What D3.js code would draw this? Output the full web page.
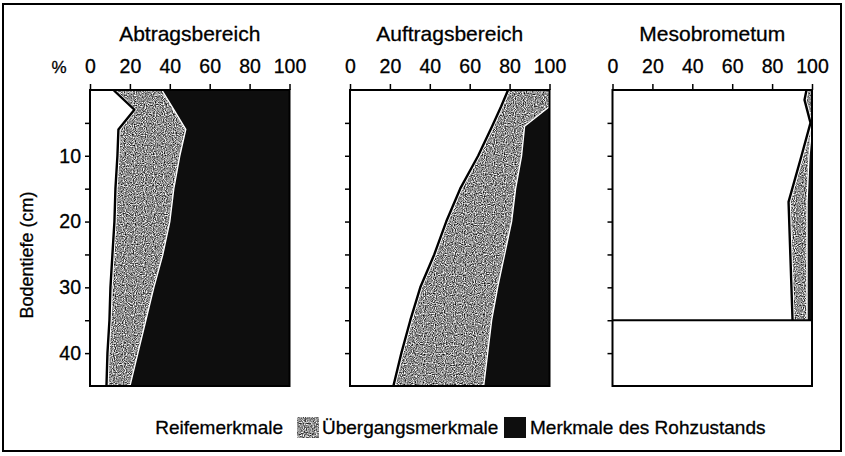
<!DOCTYPE html>
<html lang="de">
<head>
<meta charset="utf-8">
<script src="https://cdn.jsdelivr.net/npm/d3@7"></script>
<style>
    body { margin: 0; background: #fff; }
    text { font-family: "Liberation Sans", Arial, Helvetica, sans-serif; fill: #000; stroke: #000; stroke-width: 0.3px; }
</style>
</head>
<body>
<script type="text/javascript">

    var svgWidth = 845;
    var svgHeight = 456;

    /* Daten */
    var keys = ["Reifemerkmale", "Übergangsmerkmale", "Merkmale des Rohzustands"];
    var titles = ["Abtragsbereich", "Auftragsbereich", "Mesobrometum"];
    var xTicks = [0, 20, 40, 60, 80, 100];
    var yTicks = [5, 10, 15, 20, 25, 30, 35, 40];

    // Abtragsbereich
    var abtragTiefe     = [0, 3, 6, 10, 15, 20, 25, 30, 35, 40, 45];
    var abtragReife     = [12.5, 23, 15, 14.5, 13.5, 13, 12, 11, 10.5, 9.5, 9];
    var abtragUebergang = [23.5, 19, 33, 30.5, 28.5, 27, 24.5, 21, 17.5, 14.5, 11];
    var abtragRoh       = [64, 58, 52, 55, 58, 60, 63.5, 68, 72, 76, 80];

    // Auftragsbereich
    var auftragTiefe     = [0, 2.5, 5.5, 10, 15, 20, 25, 30, 35, 40, 45];
    var auftragReife     = [80, 76.5, 72, 65, 56, 49, 43, 36, 31, 26.5, 22.5];
    var auftragUebergang = [20, 23.5, 15.5, 21, 27, 32, 34.5, 38, 40, 42.5, 44.5];
    var auftragRoh       = [0, 0, 12.5, 14, 17, 19, 22.5, 26, 29, 31, 33];

    // Mesobrometum (Boden nur bis 35 cm)
    var mesoTiefe     = [0, 1.5, 5, 10, 17, 35];
    var mesoReife     = [98, 97, 100, 95.5, 89, 91];
    var mesoUebergang = [2, 3, 0, 3, 8.5, 6.5];
    var mesoRoh       = [0, 0, 0, 1.5, 2.5, 2.5];
    var mesoGrenze = 35;

    function rows(tiefe, a, b, c) {
        return tiefe.map(function(t, i) {
            var r = {tiefe: t};
            r[keys[0]] = a[i];
            r[keys[1]] = b[i];
            r[keys[2]] = c[i];
            return r;
        });
    }

    var panels = [
        {title: titles[0], data: rows(abtragTiefe, abtragReife, abtragUebergang, abtragRoh), left: 90},
        {title: titles[1], data: rows(auftragTiefe, auftragReife, auftragUebergang, auftragRoh), left: 350},
        {title: titles[2], data: rows(mesoTiefe, mesoReife, mesoUebergang, mesoRoh), left: 612.5, grenze: mesoGrenze}
    ];

    var colors = ["#ffffff", "#939393", "#0e0e0e"];

    var svg = d3.select("body").append("svg")
            .attr("width", svgWidth)
            .attr("height", svgHeight);

    /* Punktraster für die Übergangsfläche */
    var filter = svg.append("defs").append("filter")
            .attr("id", "stipple")
            .attr("color-interpolation-filters", "sRGB")
            .attr("x", 0).attr("y", 0).attr("width", 1).attr("height", 1);
    filter.append("feTurbulence")
            .attr("type", "fractalNoise")
            .attr("baseFrequency", 0.9)
            .attr("numOctaves", 1)
            .attr("seed", 4)
            .attr("result", "noise");
    filter.append("feColorMatrix")
            .attr("in", "noise")
            .attr("type", "matrix")
            .attr("values", "1 0 0 0 0  1 0 0 0 0  1 0 0 0 0  0 0 0 0 1")
            .attr("result", "grey");
    var ct = filter.append("feComponentTransfer")
            .attr("in", "grey")
            .attr("result", "contrast");
    ["feFuncR", "feFuncG", "feFuncB"].forEach(function(f) {
        ct.append(f).attr("type", "linear").attr("slope", 1.9).attr("intercept", -0.39);
    });
    filter.append("feComposite")
            .attr("in", "contrast")
            .attr("in2", "SourceAlpha")
            .attr("operator", "in");

    /* Rahmen */
    svg.append("rect")
            .attr("x", 3).attr("y", 4)
            .attr("width", 838).attr("height", 447)
            .attr("fill", "none")
            .attr("stroke", "#000")
            .attr("stroke-width", 2);

    var panelWidth = 199.5;
    var plotTop = 90, plotBottom = 386;

    var y = d3.scaleLinear()
            .domain([0, 45])
            .range([plotTop, plotBottom]);

    var stack = d3.stack().keys(keys);

    panels.forEach(function(p, pi) {
        var x = d3.scaleLinear()
                .domain([0, 100])
                .range([p.left, p.left + panelWidth]);

        var series = stack(p.data);

        var area = d3.area()
                .y(function(d) { return y(d.data.tiefe); })
                .x0(function(d) { return x(d[0]); })
                .x1(function(d) { return x(d[1]); });

        var g = svg.append("g");

        /* Flächen */
        g.selectAll("path.layer")
                .data(series)
                .enter()
                .append("path")
                .attr("class", "layer")
                .attr("d", area)
                .attr("fill", function(d, i) { return colors[i]; })
                .attr("filter", function(d, i) { return i == 1 ? "url(#stipple)" : null; });

        /* weiße Kontur der Übergangsfläche */
        g.append("path")
                .datum(series[1])
                .attr("d", area)
                .attr("fill", "none")
                .attr("stroke", "#fff")
                .attr("stroke-width", 1.4)
                .attr("stroke-linejoin", "round");

        /* Grenzlinie Reife / Übergang */
        var line = d3.line()
                .x(function(d) { return x(d[1]); })
                .y(function(d) { return y(d.data.tiefe); });

        g.append("path")
                .datum(series[0])
                .attr("d", line)
                .attr("transform", "translate(-1.5,0)")
                .attr("fill", "none")
                .attr("stroke", "#000")
                .attr("stroke-width", 2.4)
                .attr("stroke-linejoin", "round");

        if (p.grenze) {
            g.append("line")
                    .attr("x1", x(0)).attr("x2", x(100))
                    .attr("y1", y(p.grenze)).attr("y2", y(p.grenze))
                    .attr("stroke", "#000")
                    .attr("stroke-width", 2);
        }

        /* Achsenrahmen */
        g.append("rect")
                .attr("x", x(0)).attr("y", y(0))
                .attr("width", x(100) - x(0))
                .attr("height", y(45) - y(0))
                .attr("fill", "none")
                .attr("stroke", "#000")
                .attr("stroke-width", 2);

        var xAxis = g.append("g")
                .attr("transform", "translate(0," + y(0) + ")")
                .call(d3.axisTop(x).tickValues(xTicks).tickSize(6).tickPadding(11));
        xAxis.select(".domain").remove();
        xAxis.selectAll("line").attr("stroke-width", 1.5);
        xAxis.selectAll("text")
                .style("font-size", "19.5px");

        var yAxis = g.append("g")
                .attr("transform", "translate(" + x(0) + ",0)")
                .call(d3.axisLeft(y).tickValues(yTicks).tickSize(5).tickPadding(4)
                        .tickFormat(function(d) { return (pi == 0 && d % 10 == 0) ? d : ""; }));
        yAxis.select(".domain").remove();
        yAxis.selectAll("line").attr("stroke-width", 1.5);
        yAxis.selectAll("text")
                .style("font-size", "19.5px");

        /* Titel */
        svg.append("text")
                .attr("x", (x(0) + x(100)) / 2)
                .attr("y", 41)
                .attr("text-anchor", "middle")
                .style("font-size", "21px")
                .text(p.title);
    });

    svg.append("text")
            .attr("x", 59)
            .attr("y", 73)
            .attr("text-anchor", "middle")
            .style("font-size", "17px")
            .text("%");

    svg.append("text")
            .attr("transform", "translate(33,255) rotate(-90)")
            .attr("text-anchor", "middle")
            .style("font-size", "18px")
            .text("Bodentiefe (cm)");

    /* Legende */
    var legendY = 434;
    svg.append("text")
            .attr("x", 283).attr("y", legendY)
            .attr("text-anchor", "end")
            .style("font-size", "19px")
            .text(keys[0]);

    svg.append("rect")
            .attr("x", 297).attr("y", 417)
            .attr("width", 22).attr("height", 21)
            .attr("fill", colors[1])
            .attr("filter", "url(#stipple)");
    svg.append("text")
            .attr("x", 322).attr("y", legendY)
            .style("font-size", "19px")
            .text(keys[1]);

    svg.append("rect")
            .attr("x", 504).attr("y", 417)
            .attr("width", 22).attr("height", 21)
            .attr("fill", colors[2]);
    svg.append("text")
            .attr("x", 530).attr("y", legendY)
            .style("font-size", "19px")
            .text(keys[2]);

</script>
</body>
</html>
